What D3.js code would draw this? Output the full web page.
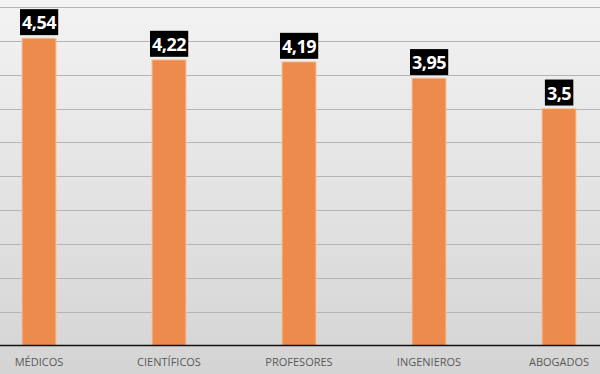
<!DOCTYPE html>
<html lang="es">
<head>
<meta charset="UTF-8">
<title>Profesiones</title>
<script src="https://d3js.org/d3.v7.min.js"></script>
<style>
  body { margin: 0; padding: 0; }
  svg { display: block; }
</style>
</head>
<body>
<svg id="chart" width="600" height="374"></svg>
<script>
// datos
var categorias = ["MÉDICOS", "CIENTÍFICOS", "PROFESORES", "INGENIEROS", "ABOGADOS"];
var valores = [4.54, 4.22, 4.19, 3.95, 3.5];
var etiquetas = ["4,54", "4,22", "4,19", "3,95", "3,5"];
var marcasY = [0, 0.5, 1, 1.5, 2, 2.5, 3, 3.5, 4, 4.5, 5];

var svg = d3.select("#chart"),
    width = +svg.attr("width"),
    height = +svg.attr("height");

// fondo degradado
var defs = svg.append("defs");
var grad = defs.append("linearGradient")
    .attr("id", "fondo")
    .attr("x1", 0).attr("y1", 0).attr("x2", 0).attr("y2", 1);
grad.append("stop").attr("offset", "0%").attr("stop-color", "#f3f3f3");
grad.append("stop").attr("offset", "100%").attr("stop-color", "#d4d4d4");

svg.append("rect")
    .attr("width", width).attr("height", height)
    .attr("fill", "url(#fondo)");

var x = d3.scaleBand()
    .domain(categorias)
    .range([-26, 624])
    .paddingInner(0.738)
    .paddingOuter(0.369);

var y = d3.scaleLinear()
    .domain([0, 5])
    .range([345.5, 7]);

// rejilla
svg.append("g")
  .selectAll("line")
  .data(marcasY.slice(1))
  .join("line")
    .attr("x1", 0).attr("x2", width)
    .attr("y1", d => Math.round(y(d)) + 0.5)
    .attr("y2", d => Math.round(y(d)) + 0.5)
    .attr("stroke", "#b4b4b4")
    .attr("stroke-width", 1);

// barras
svg.append("g")
  .selectAll("rect")
  .data(valores)
  .join("rect")
    .attr("x", (d, i) => x(categorias[i]))
    .attr("y", d => y(d))
    .attr("width", x.bandwidth())
    .attr("height", d => y(0) - y(d))
    .attr("fill", "#ec8b4b")
    .attr("stroke", "#f6c9a3")
    .attr("stroke-width", 1);

// eje x
var ejeX = svg.append("g")
    .attr("transform", "translate(0," + y(0) + ")")
    .call(d3.axisBottom(x).tickSize(0).tickPadding(13));
ejeX.select(".domain").remove();
ejeX.append("line")
    .attr("x1", 0).attr("x2", width)
    .attr("stroke", "#111").attr("stroke-width", 1.5);
ejeX.selectAll("text")
    .attr("font-family", "'Open Sans', sans-serif")
    .attr("font-size", "11px")
    .attr("fill", "#595959");

// etiquetas de datos
var etq = svg.append("g")
  .selectAll("g")
  .data(valores)
  .join("g")
    .attr("transform", (d, i) => "translate(" + (x(categorias[i]) + x.bandwidth() / 2) + "," + (y(d) - 3) + ")");

etq.append("text")
    .attr("text-anchor", "middle")
    .attr("y", -6)
    .attr("font-family", "'Open Sans', sans-serif")
    .attr("font-weight", "bold")
    .attr("font-size", "18px")
    .attr("letter-spacing", "-0.5px")
    .attr("fill", "#fff")
    .text((d, i) => etiquetas[i]);

etq.each(function() {
  var g = d3.select(this);
  var b = g.select("text").node().getBBox();
  g.insert("rect", "text")
    .attr("x", b.x - 2)
    .attr("y", -26)
    .attr("width", b.width + 4)
    .attr("height", 26)
    .attr("fill", "#000");
});
</script>
</body>
</html>
